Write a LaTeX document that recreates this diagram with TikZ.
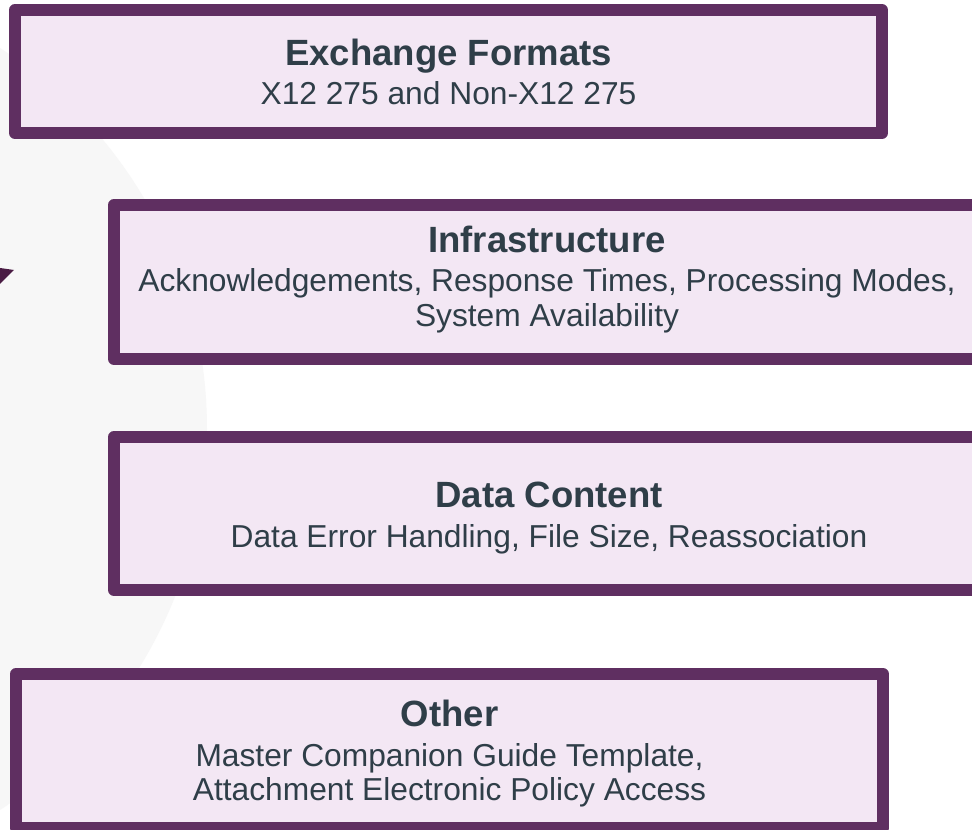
\documentclass[tikz,border=0pt]{standalone}
\usepackage{fontspec}
\setmainfont{Liberation Sans}
\definecolor{edge}{HTML}{5F2F61}
\definecolor{boxfill}{HTML}{F3E7F4}
\definecolor{txt}{HTML}{2F3E48}
\definecolor{bgc}{HTML}{F7F7F7}
\definecolor{tri}{HTML}{4A1C44}
\begin{document}
\begin{tikzpicture}[x=0.75pt,y=-0.75pt,
  box/.style={draw=edge, fill=boxfill, line width=9pt, line join=round, inner sep=0pt},
  ttl/.style={anchor=base, inner sep=0pt, text=txt, font=\fontsize{27.4pt}{32pt}\selectfont\bfseries},
  sub/.style={anchor=base, inner sep=0pt, text=txt, font=\fontsize{23.8pt}{28pt}\selectfont}]
\useasboundingbox (0,0) rectangle (972,830);
\begin{scope}
\clip (0,0) rectangle (972,830);
\fill[white] (0,0) rectangle (972,830);
\fill[bgc] (-247,429) circle (340.5pt);
\fill[tri] (0,268) -- (14,270) -- (0,284) -- cycle;
% boxes
\node[box, minimum width=650.25pt, minimum height=92.25pt] (b1) at (448.5,71.5) {};
\node[box, minimum width=649.5pt, minimum height=115.5pt] (b2) at (547,282) {};
\node[box, minimum width=649.5pt, minimum height=114.75pt] (b3) at (547,513.5) {};
\node[box, minimum width=650.25pt, minimum height=115.5pt] (b4) at (449.5,751) {};
% texts
\node[ttl] (t1) at (448.5,66) {Exchange Formats};
\node[sub] (s1) at (448.5,105) {X12 275 and Non-X12 275};
\node[ttl] (t2) at (547,253) {Infrastructure};
\node[sub] (s2a) at (547,292) {Acknowledgements, Response Times, Processing Modes,};
\node[sub] (s2b) at (547,327) {System Availability};
\node[ttl] (t3) at (549,508) {Data Content};
\node[sub] (s3) at (549,548) {Data Error Handling, File Size, Reassociation};
\node[ttl] (t4) at (449.5,726) {Other};
\node[sub] (s4a) at (449.5,766) {Master Companion Guide Template,};
\node[sub] (s4b) at (449.5,800) {Attachment Electronic Policy Access};
\end{scope}
\end{tikzpicture}
\end{document}
